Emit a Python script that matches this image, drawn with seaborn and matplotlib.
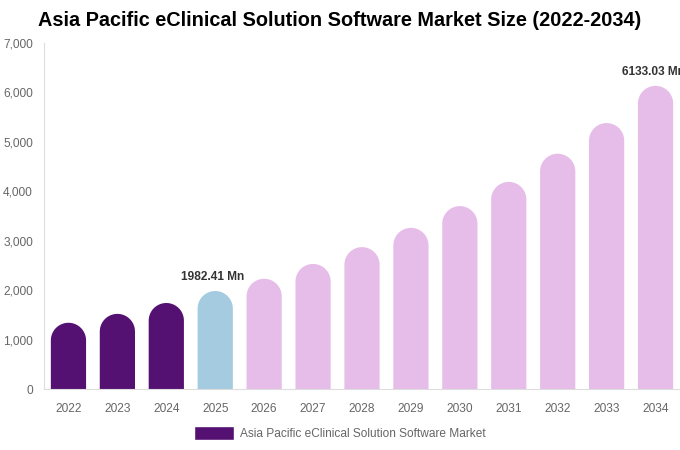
import numpy as np
import pandas as pd
import matplotlib
matplotlib.use("Agg")
import matplotlib.pyplot as plt
from matplotlib.path import Path
from matplotlib.patches import PathPatch, Patch
import seaborn as sns

years = ["2022", "2023", "2024", "2025", "2026", "2027", "2028", "2029",
         "2030", "2031", "2032", "2033", "2034"]
values = [1340, 1520, 1740, 1982.41, 2230, 2530, 2870, 3260,
          3700, 4190, 4760, 5380, 6133.03]
phase = ["hist", "hist", "hist", "base", "fcst", "fcst", "fcst", "fcst",
         "fcst", "fcst", "fcst", "fcst", "fcst"]
labels = {"2025": "1982.41 Mn", "2034": "6133.03 Mn"}
legend_label = "Asia Pacific eClinical Solution Software Market"
title = "Asia Pacific eClinical Solution Software Market Size (2022-2034)"
yticks = [0, 1000, 2000, 3000, 4000, 5000, 6000, 7000]

colors = {"hist": "#541172", "base": "#a4cbdf", "fcst": "#e6bde9"}

df = pd.DataFrame({"year": years, "value": values, "phase": phase})

sns.set_style("white")
plt.rcParams["font.family"] = ["Liberation Sans", "DejaVu Sans"]

fig = plt.figure(figsize=(6.8, 4.5), dpi=100)
ax = fig.add_axes([44 / 680, 1 - 389 / 450, 1 - 44 / 680, (389 - 43) / 450])

palette = [colors[p] for p in phase]
sns.barplot(data=df, x="year", y="value", hue="year", palette=palette,
            legend=False, width=0.72, ax=ax, saturation=1)

ax.set_xlim(-0.5, len(years) - 0.5)
ax.set_ylim(0, 7000)

# replace bars by rounded-top shapes
fig.canvas.draw()
inv = ax.transData.inverted()
for p in list(ax.patches):
    x0 = p.get_x()
    w = p.get_width()
    h = p.get_height()
    col = p.get_facecolor()
    p.set_visible(False)
    px0 = ax.transData.transform((x0, 0))
    px1 = ax.transData.transform((x0 + w, 0))
    rpx = (px1[0] - px0[0]) / 2
    ry = inv.transform((0, px0[1] + rpx))[1]
    rx = w / 2
    cx = x0 + rx
    cy = h - ry
    th = np.linspace(np.pi, 0, 40)
    arc = np.column_stack([cx + rx * np.cos(th), cy + ry * np.sin(th)])
    verts = np.vstack([[x0, 0], [x0, cy], arc, [x0 + w, 0], [x0, 0]])
    codes = [Path.MOVETO] + [Path.LINETO] * (len(verts) - 2) + [Path.CLOSEPOLY]
    ax.add_patch(PathPatch(Path(verts, codes), facecolor=col, edgecolor="none"))

# gap above the bar top, in data units
gap = inv.transform((0, ax.transData.transform((0, 0))[1] + 14))[1]
for i, (yr, v) in enumerate(zip(years, values)):
    if yr in labels:
        ax.text(i - 0.05, v + gap, labels[yr], ha="center", va="center",
                fontsize=8.6, fontweight="bold", color="#333333", clip_on=False)

ax.set_yticks(yticks)
ax.set_yticklabels([f"{t:,}" for t in yticks], color="#666666", fontsize=8.6)
ax.tick_params(axis="x", colors="#666666", labelsize=8.6, length=0, pad=10)
ax.tick_params(axis="y", length=0, pad=8)
for lab in ax.get_xticklabels():
    lab.set_color("#666666")
ax.set_xlabel("")
ax.set_ylabel("")
for s in ["top", "right"]:
    ax.spines[s].set_visible(False)
ax.spines["left"].set_color("#dddddd")
ax.spines["bottom"].set_color("#dddddd")
ax.spines["left"].set_linewidth(0.8)
ax.spines["bottom"].set_linewidth(0.8)

fig.text(340 / 680, 1 - 21 / 450, title, ha="center", va="center",
         fontsize=14.3, fontweight="bold", color="#000000")

fig.legend(handles=[Patch(facecolor=colors["hist"], label=legend_label)],
           loc="center", bbox_to_anchor=(340 / 680, 1 - 433 / 450),
           frameon=False, fontsize=8.6, labelcolor="#666666",
           handlelength=3.4, handleheight=1.5, handletextpad=0.5)

fig.savefig("out.png", dpi=100)
